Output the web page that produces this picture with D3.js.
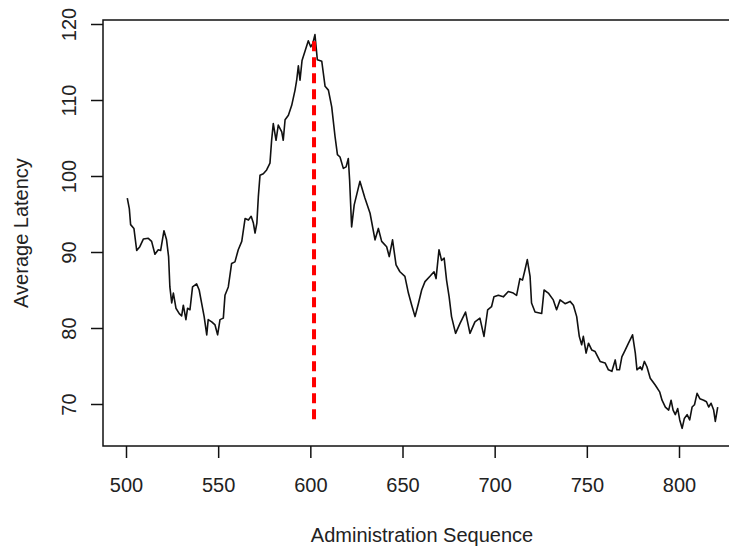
<!DOCTYPE html>
<html>
<head>
<meta charset="utf-8">
<script src="https://cdn.jsdelivr.net/npm/d3@7"></script>
<style>
  html, body { margin: 0; padding: 0; background: #ffffff; }
  svg { display: block; }
  text { font-family: "Liberation Sans", Arial, sans-serif; fill: #222; }
</style>
</head>
<body>
<svg id="chart" width="729" height="548"></svg>
<script>
// Administration sequence number of each averaged point
const seq = [
  500.7, 501.8, 502.5, 504.3, 505.8, 507.5, 509.4, 512.1, 513.9, 515.7,
  517.5, 518.8, 520.6, 522.0, 523.1, 523.8, 524.8, 525.7, 527.1, 528.9,
  530.2, 531.1, 532.5, 533.4, 534.7, 536.1, 538.3, 539.7, 541.0, 542.4,
  543.8, 544.6, 546.5, 548.3, 549.7, 551.0, 552.8, 553.7, 555.5, 557.3,
  559.1, 560.9, 562.8, 564.6, 566.4, 567.9, 569.1, 570.0, 571.0, 571.8,
  572.7, 574.5, 576.3, 578.1, 579.0, 579.9, 581.4, 582.6, 584.5, 585.3,
  586.3, 588.1, 589.9, 591.7, 592.6, 593.5, 594.4, 595.5, 597.1, 598.9,
  600.2, 601.3, 602.5, 603.8, 606.2, 608.0, 609.8, 611.6, 613.4, 614.7,
  616.1, 617.9, 619.4, 620.6, 621.3, 622.4, 623.8, 626.9, 629.6, 632.4,
  635.1, 636.9, 638.7, 641.4, 642.8, 644.6, 646.5, 648.6, 651.3, 653.2,
  655.0, 656.8, 658.6, 660.4, 662.2, 664.9, 667.1, 668.2, 669.8, 671.2,
  672.6, 673.9, 675.3, 676.6, 678.8, 681.2, 684.2, 686.6, 689.3, 692.0,
  694.2, 696.2, 698.3, 699.6, 702.0, 704.7, 707.4, 710.1, 711.9, 713.7,
  715.1, 716.4, 717.7, 719.2, 720.0, 721.9, 725.5, 726.8, 729.1, 731.8,
  733.6, 735.5, 738.2, 740.9, 742.7, 744.5, 745.9, 747.2, 748.1, 749.6,
  750.9, 752.7, 754.5, 757.2, 759.9, 761.7, 763.6, 765.4, 766.3, 767.7,
  769.0, 770.8, 772.6, 774.8, 776.3, 777.2, 779.0, 779.9, 781.2, 782.6,
  784.4, 787.1, 789.5, 790.8, 792.6, 794.4, 795.7, 796.8, 798.0, 799.3,
  800.4, 801.7, 802.9, 804.4, 805.8, 807.1, 808.4, 809.8, 811.3, 813.4,
  814.9, 816.1, 817.4, 818.8, 819.7, 821.0
];

// Average latency at each point of the sequence
const latency = [
  97.1, 95.7, 93.6, 93.1, 90.2, 90.7, 91.7, 91.8, 91.4, 89.7,
  90.3, 90.2, 92.8, 91.6, 89.4, 85.4, 83.3, 84.6, 82.6, 81.9,
  81.6, 83.0, 81.1, 82.6, 82.4, 85.4, 85.8, 85.0, 83.3, 81.5,
  79.1, 81.1, 80.8, 80.4, 79.1, 81.1, 81.3, 84.3, 85.4, 88.5,
  88.7, 90.3, 91.4, 94.4, 94.2, 94.7, 93.8, 92.5, 93.8, 97.3,
  100.1, 100.3, 100.8, 101.7, 104.7, 106.9, 104.7, 106.7, 105.8, 104.7,
  107.4, 108.0, 109.3, 111.3, 112.6, 114.5, 112.6, 115.2, 116.4, 117.8,
  117.0, 117.4, 118.6, 115.3, 115.1, 111.8, 111.3, 109.1, 105.2, 102.8,
  102.5, 101.0, 101.2, 102.3, 99.5, 93.3, 96.2, 99.3, 97.1, 95.1,
  91.6, 93.1, 91.4, 90.7, 89.4, 91.6, 88.3, 87.4, 86.8, 84.6,
  83.0, 81.5, 83.2, 85.0, 86.1, 86.8, 87.4, 86.5, 90.3, 88.9,
  89.2, 86.3, 84.1, 81.5, 79.3, 80.6, 82.1, 79.3, 80.8, 81.3,
  78.9, 82.4, 82.8, 84.1, 84.3, 84.1, 84.8, 84.6, 84.3, 86.5,
  86.3, 87.6, 89.0, 86.8, 83.3, 82.1, 81.9, 85.0, 84.6, 83.7,
  82.4, 83.7, 83.2, 83.5, 83.0, 81.5, 78.9, 77.8, 78.9, 76.7,
  78.0, 77.1, 76.9, 75.6, 75.4, 74.5, 74.3, 75.8, 74.5, 74.5,
  76.2, 77.1, 78.0, 79.1, 76.7, 74.5, 74.9, 74.5, 75.6, 74.9,
  73.4, 72.5, 71.6, 70.5, 69.6, 69.2, 70.5, 69.2, 68.6, 69.4,
  67.9, 66.8, 68.1, 68.6, 67.9, 69.6, 69.9, 71.4, 70.7, 70.5,
  70.3, 69.6, 70.1, 69.2, 67.7, 69.6
];

// Axis ticks
const xTicks = [500, 550, 600, 650, 700, 750, 800];
const yTicks = [70, 80, 90, 100, 110, 120];

// Vertical marker at the latency peak: sequence position and latency span
const markerSeq = [602, 602];
const markerLatency = [68, 118];

const xTitle = "Administration Sequence";
const yTitle = "Average Latency";

const svg = d3.select("#chart");
svg.append("rect").attr("width", 729).attr("height", 548).attr("fill", "#ffffff");

// Plot region (the right edge lies just past the page)
const plot = { left: 103, top: 20, right: 741, bottom: 446 };
const fontSize = "20px";

const x = d3.scaleLinear().domain([500, 800]).range([126, 679]);
const y = d3.scaleLinear().domain([70, 120]).range([404, 24]);

// Latency trace
const line = d3.line().x((d, i) => x(seq[i])).y(d => y(d));
svg.append("path")
  .datum(latency)
  .attr("d", line)
  .attr("fill", "none")
  .attr("stroke", "#111")
  .attr("stroke-width", 1.6)
  .attr("stroke-linejoin", "round");

// Red dashed peak marker
svg.append("path")
  .datum(markerLatency)
  .attr("d", d3.line().x((d, i) => x(markerSeq[i])).y(d => y(d)))
  .attr("fill", "none")
  .attr("stroke", "#ff0000")
  .attr("stroke-width", 4)
  .attr("stroke-dasharray", "10,6");

// Plot box
svg.append("rect")
  .attr("x", plot.left).attr("y", plot.top)
  .attr("width", plot.right - plot.left).attr("height", plot.bottom - plot.top)
  .attr("fill", "none").attr("stroke", "#111").attr("stroke-width", 1.5);

// Bottom axis
const gx = svg.append("g")
  .attr("transform", `translate(0,${plot.bottom})`)
  .call(d3.axisBottom(x).tickValues(xTicks).tickSize(12).tickFormat(d3.format("d")));
gx.select(".domain").remove();
gx.selectAll(".tick line").attr("stroke", "#111").attr("stroke-width", 1.5);
gx.selectAll(".tick text")
  .attr("y", 46).attr("dy", null)
  .style("font-size", fontSize);

// Left axis with rotated labels
const gy = svg.append("g")
  .attr("transform", `translate(${plot.left},0)`)
  .call(d3.axisLeft(y).tickValues(yTicks).tickSize(12).tickFormat(d3.format("d")));
gy.select(".domain").remove();
gy.selectAll(".tick line").attr("stroke", "#111").attr("stroke-width", 1.5);
gy.selectAll(".tick text")
  .attr("x", null).attr("dy", null).attr("y", null)
  .attr("transform", "translate(-27,0) rotate(-90)")
  .attr("text-anchor", "middle")
  .style("font-size", fontSize);

// Axis titles
svg.append("text")
  .attr("x", (plot.left + plot.right) / 2).attr("y", 542)
  .attr("text-anchor", "middle")
  .style("font-size", fontSize)
  .text(xTitle);

svg.append("text")
  .attr("transform", `translate(28,${(plot.top + plot.bottom) / 2}) rotate(-90)`)
  .attr("text-anchor", "middle")
  .style("font-size", fontSize)
  .text(yTitle);
</script>
</body>
</html>
